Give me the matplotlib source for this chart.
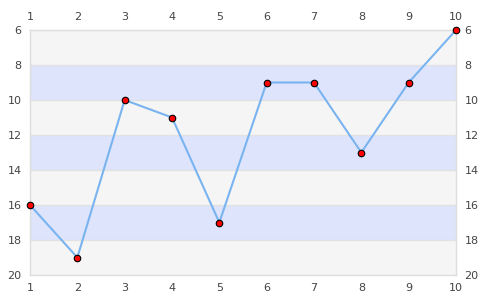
import matplotlib
matplotlib.use("Agg")
import matplotlib.pyplot as plt

x_vals = [1, 2, 3, 4, 5, 6, 7, 8, 9, 10]
y_vals = [16, 19, 10, 11, 17, 9, 9, 13, 9, 6]
y_ticks = [6, 8, 10, 12, 14, 16, 18, 20]
band_edges = [6, 8, 10, 12, 14, 16, 18, 20]
band_colors = ["#f5f5f5", "#dde4fc"]

fig = plt.figure(figsize=(4.85, 3.0), dpi=100)
ax = fig.add_axes([30/485, 25/300, 426/485, 245/300])

for i in range(len(band_edges) - 1):
    ax.axhspan(band_edges[i], band_edges[i+1], color=band_colors[i % 2], lw=0, zorder=0)
    ax.axhline(band_edges[i], color="#e2e2e2", lw=1, zorder=0.5)

ax.plot(x_vals, y_vals, color="#7ab4f0", lw=1.5, zorder=2)
ax.scatter(x_vals, y_vals, s=22, color="#ff0000", edgecolor="#000000", linewidths=0.8, zorder=3, clip_on=False)

ax.set_xlim(1, 10)
ax.set_ylim(20, 6)
ax.set_xticks(x_vals)
ax.set_yticks(y_ticks)
ax.tick_params(axis="both", length=0, labelsize=8, colors="#444444", pad=6,
               top=True, right=True, labeltop=True, labelright=True)
for s in ax.spines.values():
    s.set_color("#dddddd")
    s.set_linewidth(1)

fig.savefig("out.png", dpi=100)
